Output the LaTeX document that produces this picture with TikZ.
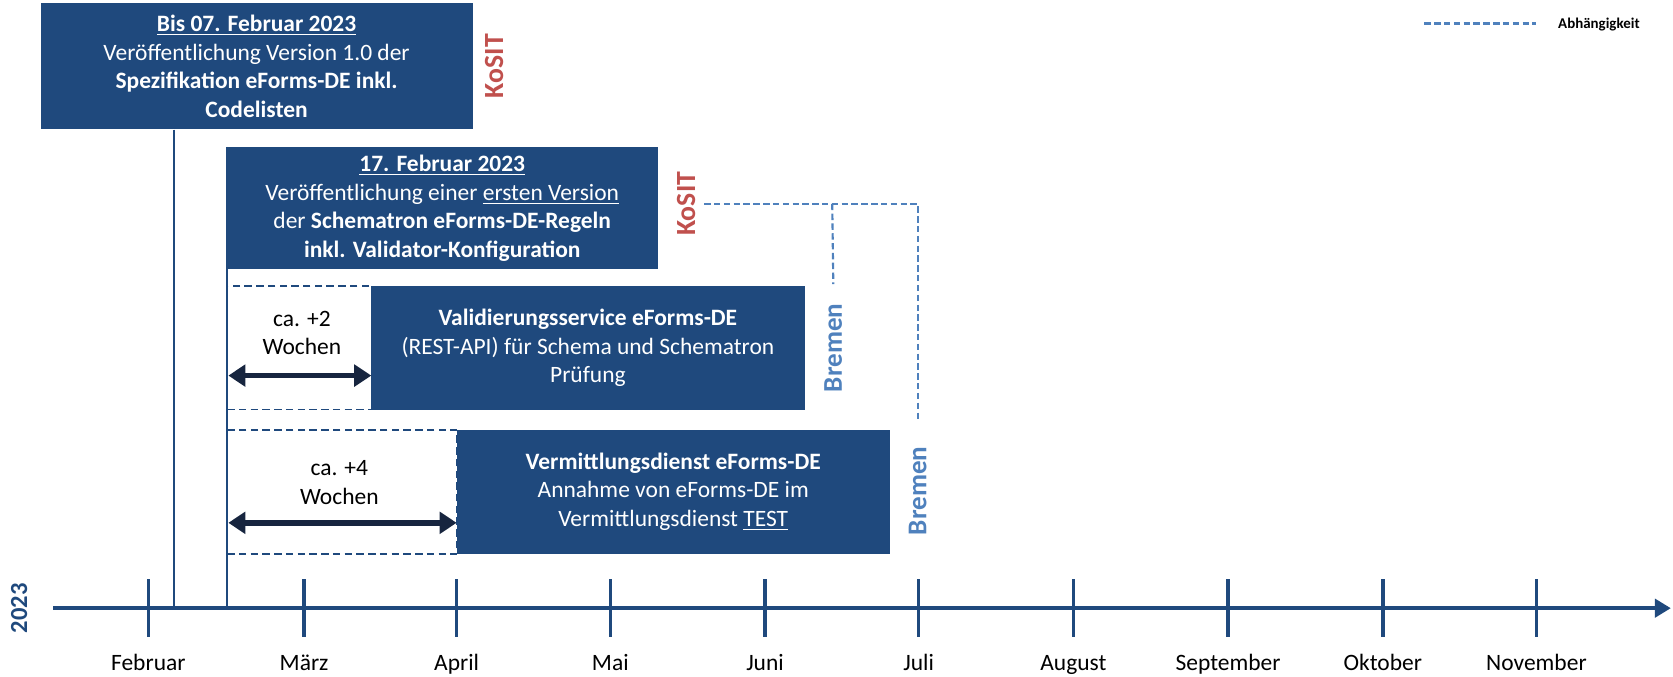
\documentclass[tikz,border=0pt]{standalone}
\usepackage{fontspec}
\setmainfont{Carlito}
\usetikzlibrary{arrows.meta,calc}
\definecolor{boxblue}{HTML}{1F497D}
\definecolor{koredd}{HTML}{C0504D}
\definecolor{bremblue}{HTML}{4F81BD}
\definecolor{navy}{HTML}{17253F}
\begin{document}
\begin{tikzpicture}[x=0.5pt,y=-0.5pt,
  txt/.style={font=\fontsize{11}{13.4}\selectfont},
  bluebox/.style={txt,fill=boxblue,text=white,inner sep=0pt,align=center},
  dashbox/.style={draw=boxblue,line width=0.7pt,dash pattern=on 3.5pt off 2pt,inner sep=0pt},
  wklabel/.style={txt,text=black,align=center},
  kosit/.style={font=\fontsize{13}{15}\selectfont\bfseries,text=koredd,rotate=90,inner sep=0pt},
  bremen/.style={font=\fontsize{12.7}{14}\selectfont\bfseries,text=bremblue,rotate=90,inner sep=0pt},
  dep/.style={draw=bremblue,line width=1pt,dash pattern=on 3pt off 1.6pt},
  vline/.style={draw=boxblue,line width=1pt},
  dbl/.style={draw=navy,line width=2.6pt,{Triangle[length=8pt,width=10pt]}-{Triangle[length=8pt,width=10pt]}},
  axisline/.style={draw=boxblue,line width=2pt,-{Triangle[length=7.5pt,width=8.5pt]}},
  tick/.style={draw=boxblue,line width=1.6pt},
  month/.style={txt,text=black,anchor=base,inner sep=0pt}]
\useasboundingbox (0,0) rectangle (1568,634);

% legend
\coordinate (lg1) at (1335,22);
\coordinate (lg2) at (1440,22);
\draw[dep] (lg1) -- (lg2);
\node[font=\fontsize{7}{8.5}\selectfont\bfseries,anchor=west,inner sep=0pt] (lgtxt) at (1460,23) {Abhängigkeit};

% axis
\coordinate (ax0) at (50,570);
\coordinate (ax1) at (1566,570);
\node[font=\fontsize{11.5}{13}\selectfont\bfseries,text=boxblue,rotate=90,inner sep=0pt] (year) at (18,570) {2023};

% boxes
\node[bluebox,minimum width=202.5pt,minimum height=59pt] (box1) at (240.5,62)
  {\textbf{\underline{Bis 07. Februar 2023}}\\Veröffentlichung Version 1.0 der\\\textbf{Spezifikation eForms-DE inkl.}\\\textbf{Codelisten}};
\node[kosit] (kosit1) at (463,62) {KoSIT};

\node[bluebox,minimum width=202.5pt,minimum height=57pt] (box2) at (414.5,195)
  {\textbf{\underline{17. Februar 2023}}\\Veröffentlichung einer \underline{ersten Version}\\der \textbf{Schematron eForms-DE-Regeln}\\\textbf{inkl. Validator-Konfiguration}};
\node[kosit] (kosit2) at (643,191) {KoSIT};

\node[dashbox,minimum width=67.5pt,minimum height=58pt] (wk2) at (280.5,326) {};
\node[bluebox,minimum width=203pt,minimum height=58pt] (box3) at (551,326)
  {\textbf{Validierungsservice eForms-DE}\\(REST-API) für Schema und Schematron\\Prüfung};
\node[wklabel] (wk2txt) at (283,312) {ca. +2\\Wochen};
\coordinate (a2l) at (214,352);
\coordinate (a2r) at (348,352);
\draw[dbl] (a2l) -- (a2r);

\node[dashbox,minimum width=107.5pt,minimum height=58pt] (wk4) at (320.5,461) {};
\node[bluebox,minimum width=203pt,minimum height=58pt] (box4) at (631,461)
  {\textbf{Vermittlungsdienst eForms-DE}\\Annahme von eForms-DE im\\Vermittlungsdienst \underline{TEST}};
\node[wklabel] (wk4txt) at (318,452) {ca. +4\\Wochen};
\coordinate (a4l) at (214,490);
\coordinate (a4r) at (428,490);
\draw[dbl] (a4l) -- (a4r);

\node[bremen] (bremen1) at (781,326) {Bremen};
\node[bremen] (bremen2) at (860,460) {Bremen};

% dependency lines
\coordinate (j1) at (780,191);
\coordinate (c2) at (860,191);
\draw[dep] ([xshift=4pt]kosit2.south) -- (c2) -- ([yshift=12pt]bremen2.east);
\draw[dep] (j1) -- ([yshift=9pt]bremen1.east);

% vertical lines
\coordinate (v1) at (163,570);
\coordinate (v2) at (213,570);
\draw[vline] (box1.south -| v1) -- (v1);
\draw[vline] (box2.north -| v2) -- (v2);

% axis
\draw[axisline] (ax0) -- (ax1);
\foreach \x/\m [count=\i] in {139/Februar,285/März,428/April,572/Mai,717/Juni,861/Juli,1006/August,1151/September,1296/Oktober,1440/November}{
  \coordinate (tk\i) at (\x,570);
  \draw[tick] ([yshift=13.5pt]tk\i) -- ([yshift=-13.5pt]tk\i);
  \node[month] (m\i) at (\x,628) {\m};
}
\end{tikzpicture}
\end{document}
